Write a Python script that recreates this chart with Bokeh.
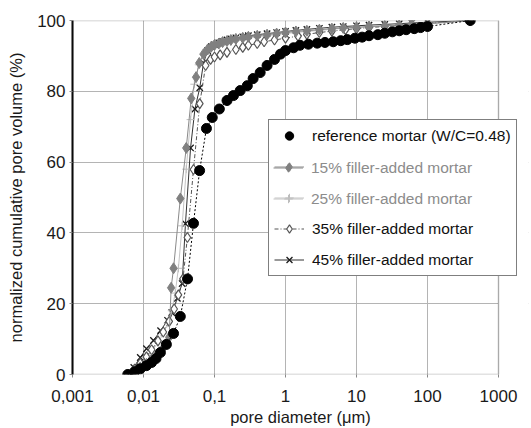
import math
from bokeh.plotting import figure
from bokeh.models import Legend, LegendItem, FixedTicker, BoxAnnotation, Title
from bokeh.embed import file_html
from bokeh.resources import INLINE

# ---------------- data (pore diameter in µm, cumulative volume in %) ----------------
ref_d = [0.006, 0.0075, 0.009, 0.011, 0.013, 0.015, 0.0173, 0.021, 0.0265, 0.033, 0.0417,
         0.0506, 0.0617, 0.077, 0.093, 0.117, 0.15, 0.185, 0.23, 0.29, 0.35, 0.44, 0.55,
         0.7, 0.85, 1.0, 1.3, 1.6, 2.1, 2.8, 3.6, 4.7, 6.0, 7.4, 9.5, 12, 15, 20, 25, 32,
         40, 50, 65, 80, 100, 400]
ref_v = [0, 0.8, 1.6, 2.5, 3.4, 4.5, 6.2, 8.5, 11.6, 16.4, 27, 42.7, 57.6, 69.5, 72.6, 75,
         77.4, 78.8, 80.2, 81.6, 83.6, 85.3, 87.3, 89, 90.5, 91.5, 92.3, 93, 93.3, 93.6,
         93.8, 94, 94.3, 94.6, 95, 95.3, 95.7, 96, 96.4, 96.8, 97.1, 97.4, 97.7, 98, 98.3, 100]

f15_d = [0.006, 0.0075, 0.009, 0.011, 0.013, 0.015, 0.017, 0.019, 0.021, 0.023, 0.0245,
         0.0265, 0.033, 0.04, 0.047, 0.055, 0.061, 0.07, 0.08, 0.09, 0.1, 0.115, 0.13, 0.15,
         0.17, 0.2, 0.25, 0.3, 0.4, 0.55, 0.75, 1.0, 1.4, 2.0, 3.0, 4.5, 6.5, 10, 15, 25,
         40, 60, 100, 400]
f15_v = [0, 1, 2, 3, 4.2, 5.2, 6.3, 7.5, 8.7, 10.5, 24.5, 30, 49.7, 64, 78, 84, 88, 90.5,
         91.8, 92.6, 93.1, 93.5, 93.9, 94.2, 94.5, 94.8, 95.1, 95.4, 95.7, 96, 96.3, 96.6,
         96.9, 97.1, 97.4, 97.7, 97.9, 98.1, 98.3, 98.5, 98.7, 98.9, 99.1, 100]

f25_d = [0.006, 0.0075, 0.009, 0.011, 0.013, 0.016, 0.019, 0.022, 0.025, 0.028, 0.031,
         0.035, 0.04, 0.046, 0.052, 0.06, 0.07, 0.08, 0.09, 0.1, 0.12, 0.14, 0.17, 0.2,
         0.25, 0.3, 0.4, 0.55, 0.75, 1.0, 1.4, 2.0, 3.0, 4.5, 6.5, 10, 15, 25, 40, 60, 100, 400]
f25_v = [0, 1.5, 3, 4.8, 6.5, 9, 11.5, 14.5, 18, 23, 30, 42, 58, 72, 82, 87.5, 90.5, 91.8,
         92.5, 93, 93.5, 93.9, 94.2, 94.5, 94.8, 95.1, 95.4, 95.7, 96, 96.3, 96.6, 96.9,
         97.2, 97.5, 97.8, 98, 98.2, 98.4, 98.6, 98.8, 99, 100]

f35_d = [0.006, 0.0075, 0.009, 0.011, 0.013, 0.016, 0.019, 0.023, 0.027, 0.031, 0.036,
         0.0415, 0.0506, 0.062, 0.075, 0.088, 0.1, 0.12, 0.15, 0.2, 0.25, 0.3, 0.4, 0.5,
         0.7, 1.0, 1.5, 2.0, 3.0, 4.5, 7.0, 10, 15, 25, 40, 60, 100, 400]
f35_v = [0, 1.5, 3.2, 5, 7, 9.5, 12, 15, 18.5, 22.5, 27, 38.7, 57.9, 76.5, 87.3, 89, 89.7,
         90.3, 91, 91.8, 92.4, 93, 93.5, 94, 94.5, 95, 95.6, 96.1, 96.6, 97, 97.4, 97.7,
         98, 98.3, 98.6, 98.9, 99.2, 100]

f45_d = [0.006, 0.0073, 0.009, 0.011, 0.0138, 0.0174, 0.0218, 0.025, 0.03, 0.035, 0.039,
         0.046, 0.053, 0.062, 0.07, 0.08, 0.09, 0.1, 0.115, 0.13, 0.15, 0.17, 0.2, 0.25,
         0.3, 0.4, 0.55, 0.75, 1.0, 1.4, 2.0, 3.0, 4.5, 6.5, 10, 15, 25, 40, 60, 100, 400]
f45_v = [0, 2, 4.8, 7.3, 9.6, 12.4, 15.3, 17.5, 21.5, 25.7, 42.6, 64, 75, 81, 88, 91.5,
         92.6, 93.2, 93.7, 94.1, 94.5, 94.8, 95.1, 95.4, 95.7, 96, 96.3, 96.6, 96.9, 97.2,
         97.5, 97.8, 98.1, 98.3, 98.5, 98.7, 98.9, 99.1, 99.3, 99.5, 100]

labels = ["reference mortar (W/C=0.48)", "15% filler-added mortar", "25% filler-added mortar",
          "35% filler-added mortar", "45% filler-added mortar"]

x_tick_vals = [0.001, 0.01, 0.1, 1, 10, 100, 1000]
x_tick_labels = ["0,001", "0,01", "0,1", "1", "10", "100", "1000"]
y_tick_vals = [0, 20, 40, 60, 80, 100]

FONT = "Liberation Sans"

# plot box spans 0.001..1000 (426 px); the frame is stretched 30 px further right
# so that the legend can overhang the box as in the original
DECADE_PX = 71.0
x_hi = 10 ** (math.log10(x_tick_vals[-1]) + 30 / DECADE_PX)

p = figure(width=531, height=428, x_axis_type="log", x_range=(x_tick_vals[0], x_hi),
           y_range=(0, 100), output_backend="svg", toolbar_location=None,
           min_border_left=72, min_border_right=3, min_border_top=20, min_border_bottom=54)

p.outline_line_color = None
p.grid.grid_line_color = "#b4b4b4"
p.grid.grid_line_width = 1

p.xaxis.ticker = FixedTicker(ticks=x_tick_vals)
p.xaxis.major_label_overrides = {v: l for v, l in zip(x_tick_vals, x_tick_labels)}
p.yaxis.ticker = FixedTicker(ticks=y_tick_vals)
p.xgrid.ticker = FixedTicker(ticks=x_tick_vals)
p.ygrid.ticker = FixedTicker(ticks=y_tick_vals)

for ax in (p.xaxis, p.yaxis):
    ax.major_tick_in = 0
    ax.major_tick_out = 3
    ax.major_tick_line_color = "#888888"
    ax.minor_tick_line_color = None
    ax.major_label_text_font = FONT
    ax.major_label_text_font_size = "17px"
    ax.major_label_text_color = "#1a1a1a"
    ax.axis_label_text_font = FONT
    ax.axis_label_text_font_size = "16.5px"
    ax.axis_label_text_font_style = "normal"
    ax.axis_label_text_color = "#1a1a1a"

p.xaxis.axis_line_color = None
p.yaxis.axis_line_color = "black"
p.yaxis.axis_line_width = 2
p.yaxis.axis_label = "normalized cumulative pore volume (%)"
p.xaxis.major_label_standoff = 12
p.yaxis.major_label_standoff = 4
p.yaxis.axis_label_standoff = 9

p.add_layout(Title(text="pore diameter (μm)", align="center", offset=-17,
                   text_font=FONT, text_font_size="16.5px", text_font_style="normal",
                   text_color="#1a1a1a", standoff=2), "below")

# series
l45 = p.line(f45_d, f45_v, line_color="#333333", line_width=1)
s45 = p.scatter(f45_d, f45_v, marker="x", size=9, line_color="#1a1a1a", line_width=1.3)

l25 = p.line(f25_d, f25_v, line_color="#c4c4c4", line_width=1)
s25 = p.scatter(f25_d, f25_v, marker="cross", size=8, line_color="#bdbdbd", line_width=1)

l35 = p.line(f35_d, f35_v, line_color="#555555", line_width=1, line_dash="4 2 1 2")
s35 = p.scatter(f35_d, f35_v, marker="diamond", size=10, fill_color="white",
                line_color="#555555", line_width=1.2)

l15 = p.line(f15_d, f15_v, line_color="#8a8a8a", line_width=1)
s15 = p.scatter(f15_d, f15_v, marker="diamond", size=11, fill_color="#808080",
                line_color="#808080")

lref = p.line(ref_d, ref_v, line_color="black", line_width=1, line_dash="2 2")
sref = p.scatter(ref_d, ref_v, marker="circle", size=10, fill_color="black", line_color="black")

# blank strip right of the plot box, then the plot box border
p.add_layout(BoxAnnotation(left=x_tick_vals[-1], fill_color="white", fill_alpha=1.0,
                           line_alpha=0, level="annotation"))
p.add_layout(BoxAnnotation(left=x_tick_vals[0], right=x_tick_vals[-1], bottom=0, top=100,
                           fill_alpha=0, line_color="#3a3a3a", line_width=1.5,
                           level="annotation"))

leg_kw = dict(glyph_width=30, glyph_height=21, label_height=21, spacing=10, padding=5,
              label_standoff=8, label_text_font=FONT, label_text_font_size="15.5px",
              margin=0)

legA = Legend(items=[LegendItem(label=labels[0], renderers=[sref]),
                     LegendItem(label=" ", renderers=[l15, s15]),
                     LegendItem(label=" ", renderers=[l25, s25]),
                     LegendItem(label=labels[3], renderers=[l35, s35]),
                     LegendItem(label=labels[4], renderers=[l45, s45])],
              location=(196, 98), border_line_color="black", border_line_width=1.5,
              background_fill_color="white", background_fill_alpha=1.0,
              label_text_color="#111111", **leg_kw)
legB = Legend(items=[LegendItem(label=labels[1], renderers=[l15, s15]),
                     LegendItem(label=labels[2], renderers=[l25, s25])],
              location=(196, 160), border_line_alpha=0, background_fill_alpha=0,
              label_text_color="#8c8c8c", **leg_kw)
p.add_layout(legA, "center")
p.add_layout(legB, "center")

open("out.html", "w").write(file_html(p, INLINE))
